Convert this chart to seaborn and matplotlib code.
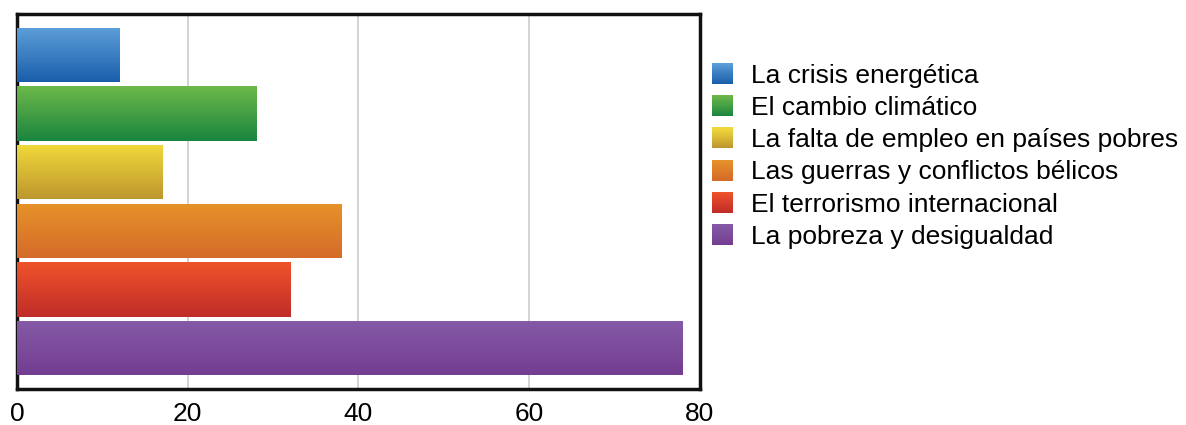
import numpy as np
import pandas as pd
import matplotlib
matplotlib.use('Agg')
import matplotlib.pyplot as plt
import matplotlib.colors as mcolors
from matplotlib.patches import Rectangle, Patch
from matplotlib.legend_handler import HandlerBase
import seaborn as sns

# --- Data ---
categories = ['La crisis energética', 'El cambio climático',
              'La falta de empleo en países pobres', 'Las guerras y conflictos bélicos',
              'El terrorismo internacional', 'La pobreza y desigualdad']
values = [12, 28, 17, 38, 32, 78]
top_colors = ['#5d9fd9', '#6db84a', '#f1d93b', '#e6922a', '#ef532b', '#855aa7']
bottom_colors = ['#1a5eab', '#1a853f', '#bd972e', '#d56b29', '#c02d28', '#733d91']
x_ticks = [0, 20, 40, 60, 80]

df = pd.DataFrame({'tema': categories, 'valor': values})

sns.set_style('white')
plt.rcParams['font.family'] = ['Liberation Sans', 'DejaVu Sans']
plt.rcParams['text.color'] = 'black'
plt.rcParams['xtick.color'] = 'black'

fig = plt.figure(figsize=(11.86, 4.25), dpi=100)
ax = fig.add_axes([0.0143, 0.0847, 0.5759, 0.8824])

mid_colors = [mcolors.to_hex((np.array(mcolors.to_rgb(a)) + np.array(mcolors.to_rgb(b))) / 2)
              for a, b in zip(top_colors, bottom_colors)]
sns.barplot(data=df, x='valor', y='tema', hue='tema', palette=mid_colors,
            orient='h', width=0.93, legend=False, ax=ax, linewidth=0, zorder=2)


def gradient(c_top, c_bot, n=64):
    t = np.linspace(0, 1, n)[:, None]
    a = np.array(mcolors.to_rgb(c_top))
    b = np.array(mcolors.to_rgb(c_bot))
    return (a * (1 - t) + b * t)[:, None, :]


# --- gradient fill on each bar ---
for patch, ct, cb in zip(ax.patches, top_colors, bottom_colors):
    x0, y0 = patch.get_x(), patch.get_y()
    w, h = patch.get_width(), patch.get_height()
    ymin, ymax = min(y0, y0 + h), max(y0, y0 + h)
    im = ax.imshow(gradient(ct, cb), extent=(x0, x0 + w, ymax, ymin),
                   aspect='auto', zorder=3, interpolation='bilinear')
    im.set_clip_path(patch)

ax.set_xlim(0, 80)
ax.set_ylim(5.7, -0.7)
ax.set_xticks(x_ticks)
ax.set_xticklabels([str(t) for t in x_ticks], fontsize=19)
ax.tick_params(axis='x', length=0, pad=9, labelcolor='black')
ax.set_yticks([])
ax.set_xlabel('')
ax.set_ylabel('')
ax.grid(axis='x', color='#cccccc', linewidth=1.2, zorder=0)
ax.set_axisbelow(True)
for s in ax.spines.values():
    s.set_color('#111111')
    s.set_linewidth(2.5)


# --- legend with gradient swatches ---
class GradientHandler(HandlerBase):
    def __init__(self, c_top, c_bot, n=20):
        super().__init__()
        self.c_top, self.c_bot, self.n = c_top, c_bot, n

    def create_artists(self, legend, orig_handle, xdescent, ydescent,
                       width, height, fontsize, trans):
        cols = gradient(self.c_top, self.c_bot, self.n)[:, 0, :]
        arts = []
        dh = height / self.n
        for i, c in enumerate(cols):
            y = -ydescent + height - (i + 1) * dh
            arts.append(Rectangle((-xdescent, y), width, dh * 1.05,
                                  facecolor=c, edgecolor='none', transform=trans))
        return arts


handles = [Patch(label=c) for c in categories]
handler_map = {h: GradientHandler(ct, cb) for h, ct, cb in zip(handles, top_colors, bottom_colors)}
leg = fig.legend(handles=handles, labels=categories, handler_map=handler_map,
                 loc='upper left', bbox_to_anchor=(712 / 1186, 1 - 63 / 425),
                 frameon=False, fontsize=19, borderpad=0, borderaxespad=0,
                 handlelength=0.8, handleheight=0.84, handletextpad=0.66,
                 labelspacing=0.29)
for t in leg.get_texts():
    t.set_color('black')

fig.savefig('out.png', dpi=100)
